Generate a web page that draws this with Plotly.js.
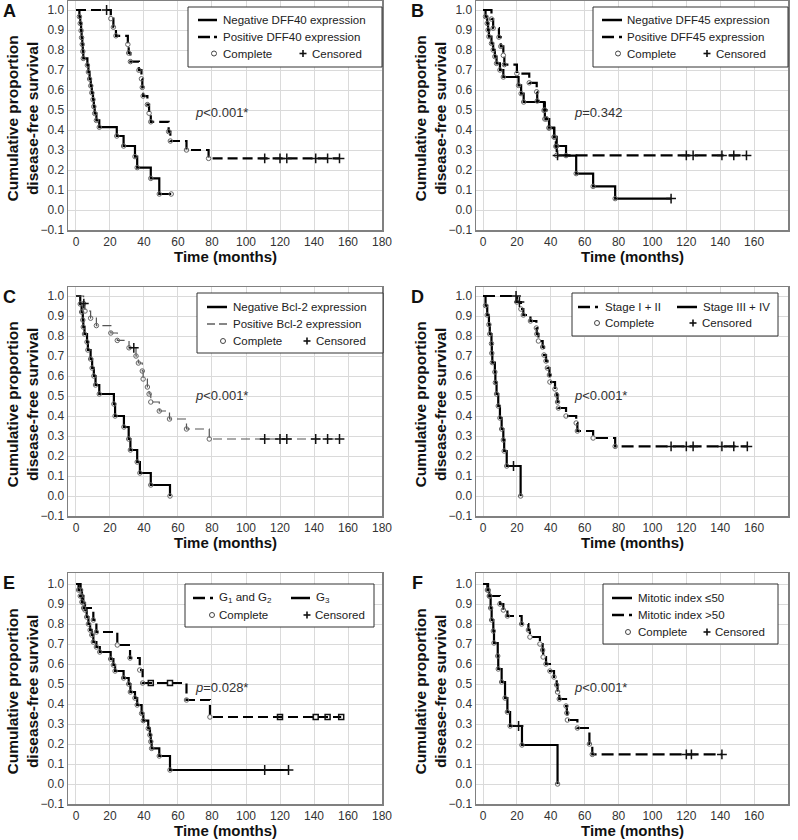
<!DOCTYPE html>
<html><head><meta charset="utf-8">
<script src="https://cdn.plot.ly/plotly-3.0.1.min.js"></script>
<style>body{margin:0;background:#fff}#chart{width:798px;height:840px}</style>
</head><body><div id="chart"></div>
<script>
// ---------------- DATA ----------------
const xTickVals = [0, 20, 40, 60, 80, 100, 120, 140, 160, 180];
const yTickVals = [-0.1, 0.0, 0.1, 0.2, 0.3, 0.4, 0.5, 0.6, 0.7, 0.8, 0.9, 1.0];

// Panel A (DFF40)
const A_neg_time = [2, 2.5, 3, 3.3, 3.7, 4, 4.3, 6.7, 7.3, 8, 8.7, 9.3, 10, 10.5, 11, 12, 13.7, 24, 28, 34.7, 36, 44, 49];
const A_neg_surv = [0.967, 0.933, 0.897, 0.862, 0.828, 0.793, 0.758, 0.724, 0.690, 0.655, 0.621, 0.586, 0.552, 0.517, 0.483, 0.448, 0.414, 0.370, 0.320, 0.267, 0.212, 0.158, 0.080];
const A_neg_end = 56;
const A_neg_cens = [];
const A_pos_time = [20.5, 22, 23.5, 30.5, 31, 32, 37, 38.5, 39, 39.5, 42, 43, 44, 54.5, 55.5, 65, 78];
const A_pos_surv = [0.957, 0.914, 0.871, 0.828, 0.785, 0.742, 0.699, 0.656, 0.613, 0.570, 0.527, 0.484, 0.441, 0.392, 0.345, 0.300, 0.258];
const A_pos_end = 155;
const A_pos_cens = [18, 111, 120, 124, 141, 148, 155];

// Panel B (DFF45)
const B_neg_time = [1.5, 2.5, 3, 3.5, 5, 6, 7, 8, 10, 12, 21, 22.5, 24, 36, 36.5, 39, 42, 43.5, 49, 55, 65, 78];
const B_neg_surv = [0.967, 0.933, 0.900, 0.867, 0.833, 0.800, 0.767, 0.733, 0.700, 0.665, 0.623, 0.582, 0.540, 0.498, 0.455, 0.412, 0.366, 0.320, 0.272, 0.182, 0.118, 0.057];
const B_neg_end = 111;
const B_neg_cens = [111];
const B_pos_time = [5, 6, 9.4, 10.5, 12, 12.6, 20, 27.3, 31.7, 32, 36.5, 37.5, 39, 42, 43, 43.5];
const B_pos_surv = [0.955, 0.909, 0.864, 0.818, 0.773, 0.727, 0.682, 0.636, 0.591, 0.545, 0.500, 0.455, 0.409, 0.364, 0.318, 0.273];
const B_pos_end = 155.5;
const B_pos_cens = [44, 120, 124, 141, 148, 155.5];

// Panel C (Bcl-2)
const C_neg_time = [2.5, 3.3, 4, 4.3, 5, 6.5, 7, 8.6, 9.5, 10.5, 11.5, 13.7, 22.3, 23, 28.2, 31, 32, 36, 37.6, 44, 55.3];
const C_neg_surv = [0.960, 0.920, 0.880, 0.845, 0.810, 0.770, 0.730, 0.685, 0.640, 0.600, 0.555, 0.510, 0.460, 0.400, 0.345, 0.285, 0.230, 0.170, 0.115, 0.055, 0.0];
const C_neg_end = 55.3;
const C_neg_cens = [];
const C_pos_time = [4.5, 5.3, 8.6, 12, 20.5, 24.3, 31.2, 35.3, 36.7, 39, 39.5, 42, 43, 44, 49, 55, 65, 78.4];
const C_pos_surv = [0.962, 0.925, 0.889, 0.852, 0.815, 0.778, 0.741, 0.700, 0.665, 0.625, 0.585, 0.545, 0.510, 0.470, 0.425, 0.385, 0.335, 0.285];
const C_pos_end = 155;
const C_pos_cens = [4.6, 34, 111, 120, 124, 141, 148, 155];

// Panel D (Stage)
const D_late_time = [1.5, 2.5, 3.5, 4, 5, 5.2, 5.5, 7, 7.3, 8, 9, 10, 11, 12, 12.5, 14, 22.2];
const D_late_surv = [0.952, 0.905, 0.857, 0.810, 0.762, 0.714, 0.667, 0.620, 0.567, 0.510, 0.450, 0.390, 0.335, 0.280, 0.225, 0.150, 0.0];
const D_late_end = 22.2;
const D_late_cens = [18];
const D_early_time = [20, 22.4, 23.8, 28, 31.5, 31.8, 32.7, 35.2, 36, 37.2, 38, 39.2, 39.5, 42.5, 43.5, 44, 44.5, 49, 55, 55.7, 65, 78];
const D_early_surv = [0.970, 0.935, 0.905, 0.875, 0.840, 0.810, 0.775, 0.745, 0.705, 0.675, 0.640, 0.605, 0.570, 0.535, 0.505, 0.470, 0.440, 0.400, 0.365, 0.325, 0.290, 0.248];
const D_early_end = 156;
const D_early_cens = [19.5, 21.5, 111, 120, 124, 141, 148, 156];

// Panel E (Grade)
const E_g3_time = [2.7, 3.5, 4.3, 5.3, 6.3, 7.3, 8.3, 9.3, 10.2, 12, 14, 20.4, 22, 23, 28, 31, 32, 34.7, 36, 38.6, 39.6, 42.5, 43.5, 44, 44.5, 49, 55.3];
const E_g3_surv = [0.970, 0.940, 0.905, 0.870, 0.835, 0.800, 0.770, 0.745, 0.710, 0.685, 0.660, 0.625, 0.595, 0.565, 0.530, 0.500, 0.460, 0.430, 0.395, 0.353, 0.317, 0.278, 0.245, 0.212, 0.178, 0.140, 0.070];
const E_g3_end = 125;
const E_g3_cens = [111, 125];
const E_g12_time = [1.5, 2.5, 3.5, 4.5, 10.2, 12, 24.3, 31.8, 37.5, 39.2, 65, 78.8];
const E_g12_surv = [0.970, 0.940, 0.910, 0.880, 0.820, 0.760, 0.695, 0.630, 0.570, 0.505, 0.420, 0.335];
const E_g12_end = 156;
const E_g12_cens = [44, 55.3, 120, 141, 148, 156];

// Panel F (Mitotic index)
const F_le_time = [2.6, 3.7, 4.5, 5.1, 6.1, 6.5, 8.7, 9, 11, 13, 14.4, 16, 23, 44];
const F_le_surv = [0.970, 0.940, 0.880, 0.820, 0.765, 0.705, 0.640, 0.575, 0.510, 0.430, 0.360, 0.290, 0.195, 0.0];
const F_le_end = 44;
const F_le_cens = [21];
const F_gt_time = [3, 4, 10, 12, 14.4, 22.8, 26.8, 27.7, 33.6, 35.2, 35.5, 37.2, 39.5, 41.9, 43.5, 44, 45, 49, 49.5, 49.8, 55.7, 62.8, 64.5];
const F_gt_surv = [0.970, 0.940, 0.900, 0.870, 0.840, 0.800, 0.770, 0.735, 0.700, 0.670, 0.635, 0.600, 0.565, 0.535, 0.495, 0.460, 0.425, 0.390, 0.355, 0.320, 0.280, 0.200, 0.148];
const F_gt_end = 141;
const F_gt_cens = [120, 123, 141];

const panelLetters = ['A', 'B', 'C', 'D', 'E', 'F'];
const pTexts = ['<i>p</i>&lt;0.001*', '<i>p</i>=0.342', '<i>p</i>&lt;0.001*', '<i>p</i>&lt;0.001*', '<i>p</i>=0.028*', '<i>p</i>&lt;0.001*'];

// ---------------- BUILD ----------------
const FONT = 'Liberation Sans, Arial, sans-serif';
const W = 798, H = 840;
const px = x => x / W;
const py = y => 1 - y / H;
const traces = [];

function survAt(times, surv, t) {
  let s = 1;
  for (let i = 0; i < times.length; i++) if (times[i] <= t) s = surv[i];
  return s;
}
function sfx(n) { return n === 1 ? '' : String(n); }

function addCurve(n, times, surv, endT, cens, line, censSymbol) {
  const xs = [0].concat(times), ys = [1].concat(surv);
  if (endT > times[times.length - 1]) { xs.push(endT); ys.push(surv[surv.length - 1]); }
  const xa = 'x' + sfx(n), ya = 'y' + sfx(n);
  traces.push({x: xs, y: ys, xaxis: xa, yaxis: ya, mode: 'lines', line: Object.assign({shape: 'hv'}, line), hoverinfo: 'skip'});
  const mx = times.slice(), my = surv.slice();
  if (endT > times[times.length - 1] && cens.indexOf(endT) < 0) { mx.push(endT); my.push(surv[surv.length - 1]); }
  traces.push({x: mx, y: my, xaxis: xa, yaxis: ya, mode: 'markers',
    marker: {symbol: 'circle-open', size: 4.5, color: '#666', line: {width: 1, color: '#666'}}, hoverinfo: 'skip'});
  if (cens.length) {
    traces.push({x: cens, y: cens.map(t => survAt(times, surv, t)), xaxis: xa, yaxis: ya, mode: 'markers',
      marker: {symbol: censSymbol || 'cross-thin-open', size: censSymbol ? 5 : 7, color: '#111', line: {width: 1.5, color: '#111'}}, hoverinfo: 'skip'});
  }
}

const SOLID = {color: '#000', width: 2.2};
const DASH = {color: '#000', width: 2.2, dash: '10px,5px'};
const DASHB = {color: '#000', width: 2.2, dash: '12px,5px'};
const THIN = {color: '#555', width: 1.2, dash: '9px,5px'};

addCurve(1, A_neg_time, A_neg_surv, A_neg_end, A_neg_cens, SOLID);
addCurve(1, A_pos_time, A_pos_surv, A_pos_end, A_pos_cens, DASH);
addCurve(2, B_neg_time, B_neg_surv, B_neg_end, B_neg_cens, SOLID);
addCurve(2, B_pos_time, B_pos_surv, B_pos_end, B_pos_cens, DASHB);
addCurve(3, C_neg_time, C_neg_surv, C_neg_end, C_neg_cens, SOLID);
addCurve(3, C_pos_time, C_pos_surv, C_pos_end, C_pos_cens, THIN);
addCurve(4, D_late_time, D_late_surv, D_late_end, D_late_cens, SOLID);
addCurve(4, D_early_time, D_early_surv, D_early_end, D_early_cens, DASHB);
addCurve(5, E_g3_time, E_g3_surv, E_g3_end, E_g3_cens, SOLID);
addCurve(5, E_g12_time, E_g12_surv, E_g12_end, E_g12_cens, DASH, 'square-open');
addCurve(6, F_le_time, F_le_surv, F_le_end, F_le_cens, SOLID);
addCurve(6, F_gt_time, F_gt_surv, F_gt_end, F_gt_cens, DASHB);

// panel geometry (pixels)
const cols = [{l: 68, r: 382, rmin: -4.7}, {l: 476, r: 788, rmin: -4.13}];
const rows = [{t: 1, b: 230, top: 1.045}, {t: 287, b: 516, top: 1.045}, {t: 573, b: 804, top: 1.055}];

const layout = {
  width: W, height: H, margin: {l: 0, r: 0, t: 0, b: 0},
  paper_bgcolor: '#fff', plot_bgcolor: '#fff', showlegend: false,
  font: {family: FONT, size: 12, color: '#333'},
  shapes: [], annotations: []
};

for (let n = 1; n <= 6; n++) {
  const c = cols[(n - 1) % 2], r = rows[Math.floor((n - 1) / 2)];
  const common = {showline: true, mirror: true, linecolor: '#808080', linewidth: 1.5,
    showgrid: true, gridcolor: '#dadada', gridwidth: 1, zeroline: false,
    ticks: '', tickfont: {family: FONT, size: 12, color: '#333'}, fixedrange: true};
  layout['xaxis' + sfx(n)] = Object.assign({}, common, {
    domain: [px(c.l), px(c.r)], range: [c.rmin, 180], tickvals: xTickVals, anchor: 'y' + sfx(n)});
  layout['yaxis' + sfx(n)] = Object.assign({}, common, {
    domain: [py(r.b), py(r.t)], range: [-0.1, r.top], tickvals: yTickVals, tickformat: '.1f', anchor: 'x' + sfx(n)});

  const cx = (c.l + c.r) / 2;
  layout.annotations.push({xref: 'paper', yref: 'paper', x: px(cx), y: py(r.b + 26.5), text: '<b>Time (months)</b>',
    showarrow: false, xanchor: 'center', yanchor: 'middle', font: {family: FONT, size: 15, color: '#111'}});
  const ytx = c.l - 46;
  const yc = r.t + 10 + (r.b - r.t - 10) / 2 - 2;
  layout.annotations.push({xref: 'paper', yref: 'paper', x: px(ytx), y: py(yc), text: '<b>Cumulative proportion<br>disease-free survival</b>',
    textangle: -90, showarrow: false, xanchor: 'center', yanchor: 'middle', font: {family: FONT, size: 15.5, color: '#111'}});
  layout.annotations.push({xref: 'paper', yref: 'paper', x: px(c.l - 59), y: py(r.t + 10), text: '<b>' + panelLetters[n - 1] + '</b>',
    showarrow: false, xanchor: 'center', yanchor: 'middle', font: {family: FONT, size: 18, color: '#111'}});
  layout.annotations.push({xref: 'paper', yref: 'paper', x: px(c.l + ((n - 1) % 2 === 0 ? 125 : 96)), y: py(r.t + 112 + (n <= 2 ? 0 : (n <= 4 ? -4 : 2))),
    text: pTexts[n - 1], showarrow: false, xanchor: 'left', yanchor: 'middle', font: {family: FONT, size: 13, color: '#333'}});
}

// ---------------- legends ----------------
function box(x0, y0, x1, y1) {
  layout.shapes.push({type: 'rect', xref: 'paper', yref: 'paper', x0: px(x0), x1: px(x1), y0: py(y0), y1: py(y1),
    line: {color: '#333', width: 1}, fillcolor: '#fff'});
}
function seg(x0, x1, y, w, col) {
  layout.shapes.push({type: 'line', xref: 'paper', yref: 'paper', x0: px(x0), x1: px(x1), y0: py(y), y1: py(y),
    line: {color: col || '#000', width: w}});
}
function sample(x0, x1, y, kind) {
  if (kind === 'solid') seg(x0, x1, y, 2.5);
  else if (kind === 'dashdot') { seg(x0, x0 + 12, y, 2.5); seg(x1 - 3, x1, y, 2.5); }
  else { seg(x0, x0 + 8, y, 1.3, '#444'); seg(x0 + 12, x1, y, 1.3, '#444'); }
}
function circ(x, y) {
  layout.shapes.push({type: 'circle', xref: 'paper', yref: 'paper', x0: px(x - 2.5), x1: px(x + 2.5), y0: py(y + 2.5), y1: py(y - 2.5),
    line: {color: '#444', width: 1}});
}
function plus(x, y) {
  layout.shapes.push({type: 'line', xref: 'paper', yref: 'paper', x0: px(x - 3.5), x1: px(x + 3.5), y0: py(y), y1: py(y), line: {color: '#111', width: 1.6}});
  layout.shapes.push({type: 'line', xref: 'paper', yref: 'paper', x0: px(x), x1: px(x), y0: py(y - 3.5), y1: py(y + 3.5), line: {color: '#111', width: 1.6}});
}
function txt(x, y, t) {
  layout.annotations.push({xref: 'paper', yref: 'paper', x: px(x), y: py(y), text: t, showarrow: false,
    xanchor: 'left', yanchor: 'middle', font: {family: FONT, size: 11.5, color: '#222'}});
}

// A
box(188, 7, 382, 67);
sample(198, 217, 20, 'solid'); txt(221, 20, 'Negative DFF40 expression');
sample(198, 217, 37, 'dashdot'); txt(221, 37, 'Positive DFF40 expression');
circ(214, 53.5); txt(221, 53.5, 'Complete'); plus(303, 53.5); txt(310, 53.5, 'Censored');
// B
box(593, 7, 788, 67);
sample(602, 622, 20, 'solid'); txt(625, 20, 'Negative DFF45 expression');
sample(602, 622, 37, 'dashdot'); txt(625, 37, 'Positive DFF45 expression');
circ(618, 53.5); txt(625, 53.5, 'Complete'); plus(707, 53.5); txt(714, 53.5, 'Censored');
// C
box(197, 293, 383, 353);
sample(207, 227, 307, 'solid'); txt(231, 307, 'Negative Bcl-2 expression');
sample(207, 227, 324, 'thin'); txt(231, 324, 'Positive Bcl-2 expression');
circ(223, 341); txt(231, 341, 'Complete'); plus(307, 341); txt(314, 341, 'Censored');
// D
box(572, 293, 778, 336);
sample(578, 598, 307, 'dashdot'); txt(603, 307, 'Stage I + II');
sample(677, 697, 307, 'solid'); txt(701, 307, 'Stage III + IV');
circ(597, 323); txt(603, 323, 'Complete'); plus(693, 323); txt(700, 323, 'Censored');
// E
box(185, 584, 374, 627);
sample(193, 213, 598, 'dashdot'); txt(217, 598, 'G<sub>1</sub> and G<sub>2</sub>');
sample(291, 310, 598, 'solid'); txt(314, 598, 'G<sub>3</sub>');
circ(212, 615); txt(217, 615, 'Complete'); plus(307, 615); txt(313, 615, 'Censored');
// F
box(603, 584, 778, 644);
sample(612, 632, 598, 'solid'); txt(636, 598, 'Mitotic index ≤50');
sample(612, 632, 615, 'dashdot'); txt(636, 615, 'Mitotic index &gt;50');
circ(628, 632); txt(636, 632, 'Complete'); plus(707, 632); txt(713, 632, 'Censored');

Plotly.newPlot('chart', traces, layout, {staticPlot: true});
</script></body></html>
